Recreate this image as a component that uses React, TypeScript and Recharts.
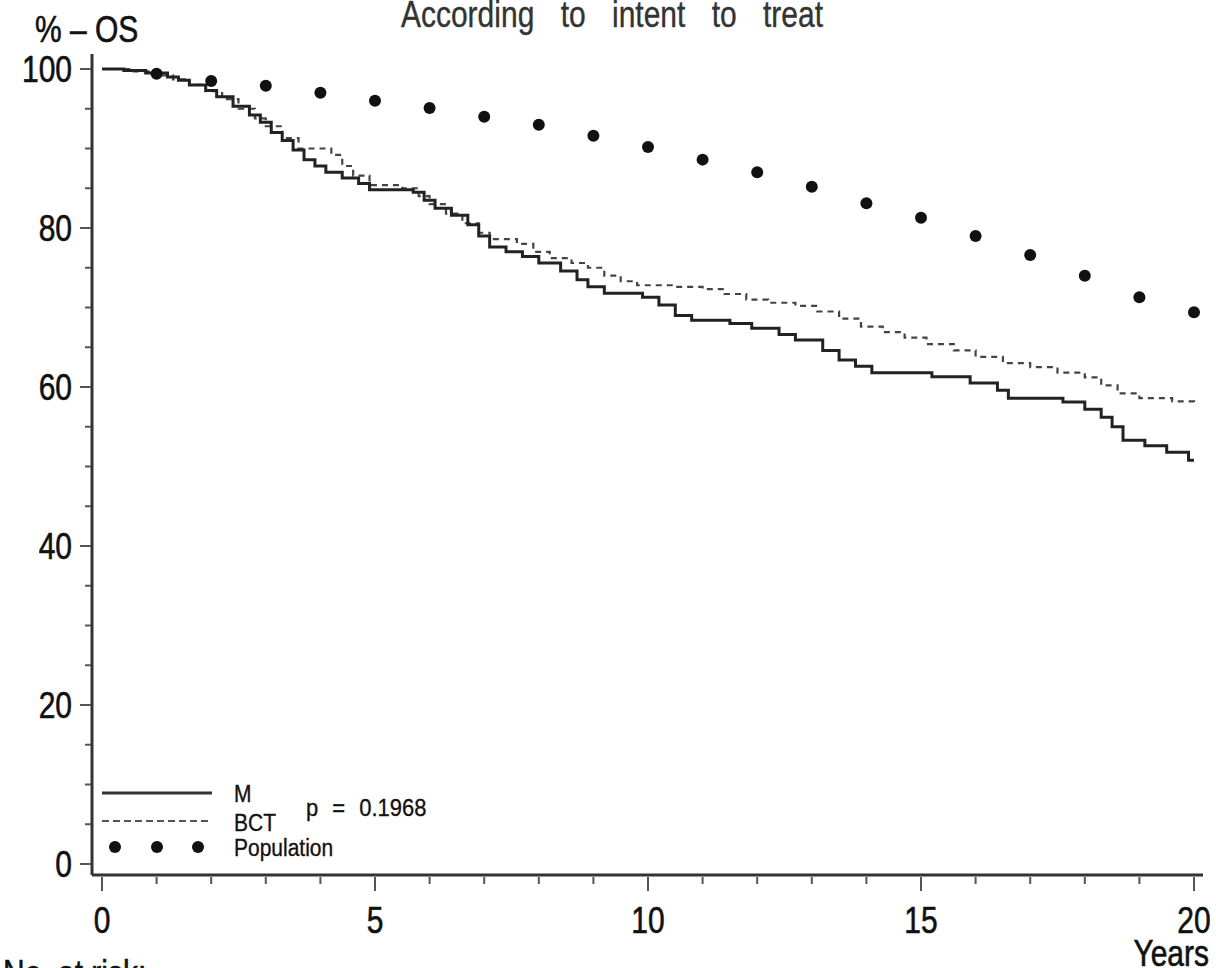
import React from 'react';
import { ComposedChart, Line, Scatter, XAxis, YAxis } from 'recharts';

// Kaplan-Meier overall survival (years, % alive)
const mTimes = [0, 0.4, 0.8, 1.2, 1.4, 1.6, 1.9, 2.1, 2.4, 2.7, 2.9, 3.1, 3.3, 3.5, 3.7, 3.9, 4.1, 4.4, 4.7, 4.9, 5.7, 5.9, 6.1, 6.4, 6.7, 6.9, 7.1, 7.4, 7.7, 8.0, 8.4, 8.7, 8.9, 9.2, 9.9, 10.2, 10.5, 10.8, 11.5, 11.9, 12.4, 12.7, 13.2, 13.5, 13.8, 14.1, 15.2, 15.9, 16.4, 16.6, 17.6, 18.0, 18.3, 18.5, 18.7, 19.1, 19.5, 19.9, 20];
const mSurv = [100, 99.8, 99.5, 99.0, 98.6, 98.0, 97.3, 96.5, 95.3, 94.2, 93.3, 92.0, 91.0, 89.8, 88.6, 87.8, 87.0, 86.3, 85.6, 84.8, 84.5, 83.5, 82.5, 81.6, 80.4, 79.0, 77.6, 77.0, 76.4, 75.6, 74.6, 73.5, 72.6, 71.8, 71.3, 70.3, 69.0, 68.4, 68.0, 67.4, 66.6, 65.9, 64.6, 63.4, 62.6, 61.8, 61.3, 60.5, 59.6, 58.6, 58.1, 57.2, 56.2, 55.0, 53.3, 52.6, 51.8, 50.8, 50.8];

const bctTimes = [0, 0.5, 1.0, 1.3, 1.6, 1.9, 2.2, 2.5, 2.8, 3.0, 3.3, 3.6, 4.2, 4.4, 4.6, 4.9, 5.5, 5.8, 6.0, 6.3, 6.6, 6.9, 7.1, 7.6, 7.9, 8.2, 8.6, 8.9, 9.2, 9.5, 9.8, 10.5, 11.0, 11.4, 11.8, 12.2, 12.7, 13.1, 13.5, 13.9, 14.3, 14.7, 15.1, 15.6, 16.0, 16.5, 17.0, 17.5, 18.0, 18.3, 18.6, 19.0, 19.6, 20];
const bctSurv = [100, 99.7, 99.2, 98.7, 98.0, 97.2, 96.2, 95.0, 93.8, 92.8, 91.3, 90.0, 89.2, 87.8, 86.6, 85.4, 85.0, 84.0, 83.0, 81.8, 80.6, 79.4, 78.6, 78.0, 77.0, 76.2, 75.6, 75.0, 74.0, 73.3, 72.8, 72.6, 72.3, 71.7, 71.0, 70.6, 70.2, 69.5, 68.6, 67.6, 66.9, 66.2, 65.4, 64.6, 63.8, 63.0, 62.5, 61.8, 61.2, 60.2, 59.2, 58.6, 58.2, 58.0];

// expected survival of the general population
const popYears = [1, 2, 3, 4, 5, 6, 7, 8, 9, 10, 11, 12, 13, 14, 15, 16, 17, 18, 19, 20];
const popSurv = [99.4, 98.5, 97.9, 97.0, 96.0, 95.1, 94.0, 93.0, 91.6, 90.2, 88.6, 87.0, 85.2, 83.1, 81.3, 79.0, 76.6, 74.0, 71.3, 69.4];

const xTicks = [0, 1, 2, 3, 4, 5, 6, 7, 8, 9, 10, 11, 12, 13, 14, 15, 16, 17, 18, 19, 20];
const yTicks = [0, 5, 10, 15, 20, 25, 30, 35, 40, 45, 50, 55, 60, 65, 70, 75, 80, 85, 90, 95, 100];

const mData = mTimes.map((t, i) => ({ t, v: mSurv[i] }));
const bctData = bctTimes.map((t, i) => ({ t, v: bctSurv[i] }));
const popData = popYears.map((t, i) => ({ t, v: popSurv[i] }));

const FONT = "'Liberation Sans', Arial, Helvetica, sans-serif";

// the original's lettering is a bit taller than it is wide, and heavy from upscaling
const T = ({ x, y, size, anchor = 'start', sy = 1.2, fill = '#111', ws = 0, sw = 0.5, children }: any) => (
  <text
    transform={`translate(${x},${y}) scale(1,${sy})`}
    fontSize={size}
    fontFamily={FONT}
    textAnchor={anchor}
    fill={fill}
    stroke={fill}
    strokeWidth={sw}
    wordSpacing={ws}
  >
    {children}
  </text>
);

const XTick = ({ x, y, payload }: any) => {
  const major = payload.value % 5 === 0;
  return (
    <g>
      <line x1={x} x2={x} y1={y + 2} y2={y + (major ? 16 : 9)} stroke="#555" strokeWidth={2} />
      {major && <T x={x} y={y + 58} size={30} anchor="middle">{payload.value}</T>}
    </g>
  );
};

const YTick = ({ x, y, payload }: any) => {
  const major = payload.value % 20 === 0;
  return (
    <g>
      <line x1={x - (major ? 12 : 7)} x2={x - 1} y1={y} y2={y} stroke="#555" strokeWidth={2} />
      {major && <T x={x - 20} y={y + 13} size={30} anchor="end">{payload.value}</T>}
    </g>
  );
};

const Dot = (props: any) => <circle cx={props.cx} cy={props.cy} r={6} fill="#111" />;

export default function App() {
  return (
    <div style={{ position: 'absolute', left: 0, top: 0, width: 1216, height: 968, background: '#fff' }}>
      <ComposedChart width={1216} height={968} margin={{ top: 54, right: 13, left: 0, bottom: 0 }}>
        <XAxis
          dataKey="t"
          type="number"
          domain={[0, 20]}
          ticks={xTicks}
          interval={0}
          height={93}
          padding={{ left: 10, right: 9 }}
          axisLine={{ stroke: '#333', strokeWidth: 3 }}
          tickLine={false}
          tickSize={0}
          tickMargin={0}
          tick={<XTick />}
        />
        <XAxis
          xAxisId="top"
          orientation="top"
          type="number"
          domain={[0, 20]}
          height={0}
          tick={false}
          tickLine={false}
          axisLine={{ stroke: '#333', strokeWidth: 3 }}
        />
        <YAxis
          dataKey="v"
          type="number"
          domain={[0, 100]}
          ticks={yTicks}
          interval={0}
          width={92}
          padding={{ top: 15, bottom: 11 }}
          axisLine={{ stroke: '#333', strokeWidth: 3 }}
          tickLine={false}
          tickSize={0}
          tickMargin={0}
          tick={<YTick />}
        />
        <YAxis
          yAxisId="right"
          orientation="right"
          type="number"
          domain={[0, 100]}
          width={0}
          tick={false}
          tickLine={false}
          axisLine={{ stroke: '#111', strokeWidth: 4 }}
        />
        <Line
          data={bctData}
          dataKey="v"
          type="stepAfter"
          stroke="#444"
          strokeWidth={2.2}
          strokeDasharray="6 5"
          dot={false}
          isAnimationActive={false}
        />
        <Line
          data={mData}
          dataKey="v"
          type="stepAfter"
          stroke="#222"
          strokeWidth={3}
          dot={false}
          isAnimationActive={false}
        />
        <Scatter data={popData} dataKey="v" shape={<Dot />} isAnimationActive={false} />
      </ComposedChart>

      <svg
        width={1216}
        height={968}
        style={{ position: 'absolute', left: 0, top: 0, pointerEvents: 'none' }}
      >
        <T x={612} y={27} size={30} anchor="middle" fill="#333" ws={18} sw={0.3}>According to intent to treat</T>
        <T x={35} y={42} size={30}>% – OS</T>
        <T x={1209} y={966} size={30} anchor="end">Years</T>
        <T x={3} y={986} size={30}>No. at risk:</T>

        {/* legend */}
        <line x1={102} x2={212} y1={793} y2={793} stroke="#333" strokeWidth={3} />
        <line x1={102} x2={212} y1={821} y2={821} stroke="#555" strokeWidth={2.2} strokeDasharray="7 4" />
        <circle cx={115} cy={847} r={6} fill="#111" />
        <circle cx={157} cy={847} r={6} fill="#111" />
        <circle cx={198} cy={847} r={6} fill="#111" />
        <T x={234} y={802} size={21} sy={1.12} sw={0.3}>M</T>
        <T x={234} y={831} size={21} sy={1.12} sw={0.3}>BCT</T>
        <T x={234} y={856} size={21} sy={1.12} sw={0.3}>Population</T>
        <T x={306} y={816} size={22} sy={1.12} ws={8} sw={0.3}>p = 0.1968</T>
      </svg>
    </div>
  );
}
